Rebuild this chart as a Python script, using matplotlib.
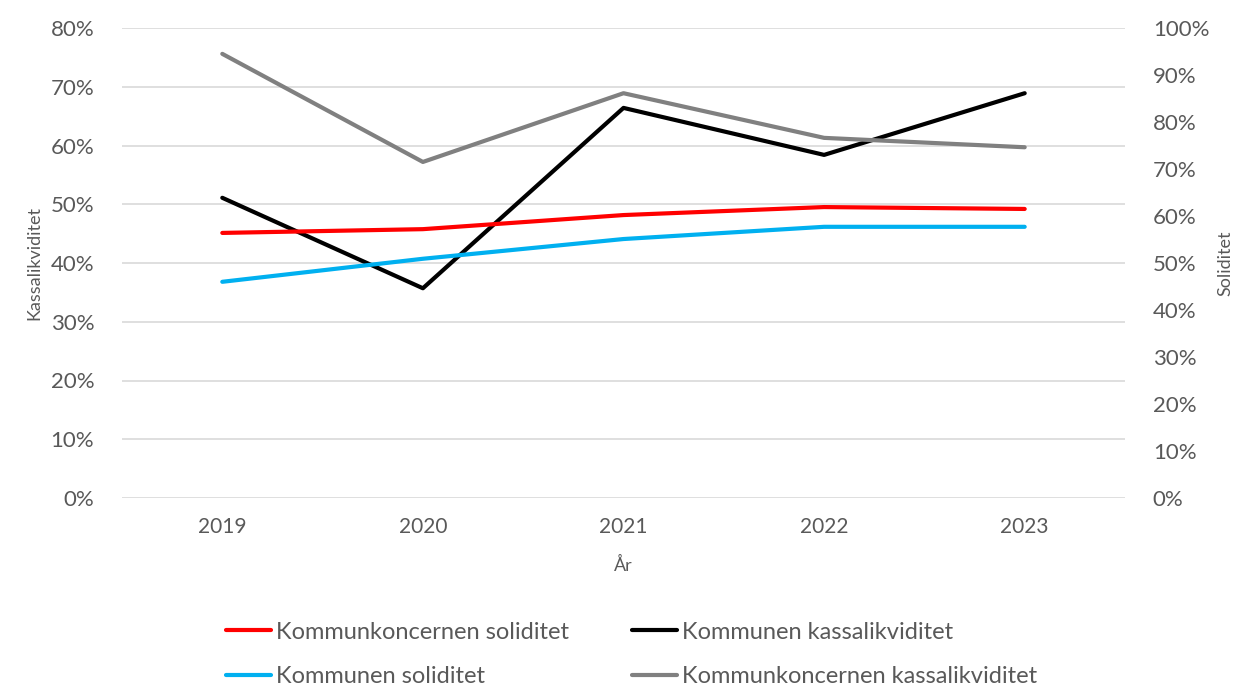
import matplotlib.pyplot as plt
from matplotlib.ticker import PercentFormatter

plt.rcParams['font.family'] = ['Lato', 'DejaVu Sans']

# Data
years = ["2019", "2020", "2021", "2022", "2023"]
koncern_soliditet = [56.4, 57.2, 60.2, 61.9, 61.5]       # right axis
kommun_soliditet = [46.0, 50.9, 55.1, 57.7, 57.7]        # right axis
kommun_kassalikviditet = [51.1, 35.7, 66.4, 58.4, 68.9]  # left axis
koncern_kassalikviditet = [75.6, 57.2, 68.9, 61.3, 59.7] # left axis

txt = "#595959"
grid = "#d9d9d9"

fig = plt.figure(figsize=(12.36, 6.86), dpi=100)
ax = fig.add_axes([122 / 1236, 1 - 498 / 686, (1125 - 122) / 1236, (498 - 28) / 686])
ax2 = ax.twinx()

x = list(range(len(years)))
l3, = ax.plot(x, kommun_kassalikviditet, color="black", lw=3, solid_capstyle="round",
              label="Kommunen kassalikviditet")
l4, = ax.plot(x, koncern_kassalikviditet, color="#808080", lw=3, solid_capstyle="round",
              label="Kommunkoncernen kassalikviditet")
l1, = ax2.plot(x, koncern_soliditet, color="#ff0000", lw=3, solid_capstyle="round",
               label="Kommunkoncernen soliditet")
l2, = ax2.plot(x, kommun_soliditet, color="#00b0f0", lw=3, solid_capstyle="round",
               label="Kommunen soliditet")

ax.set_xlim(-0.5, len(years) - 0.5)
ax.set_ylim(0, 80)
ax2.set_ylim(0, 100)
ax.set_yticks(range(0, 81, 10))
ax2.set_yticks(range(0, 101, 10))
ax.yaxis.set_major_formatter(PercentFormatter(decimals=0))
ax2.yaxis.set_major_formatter(PercentFormatter(decimals=0))
ax.set_xticks(x)
ax.set_xticklabels(years)

ax.grid(axis="y", color=grid, lw=1.2)
ax.set_axisbelow(True)
for a in (ax, ax2):
    for s in a.spines.values():
        s.set_visible(False)
    a.tick_params(length=0, colors=txt, labelsize=16)
ax.tick_params(axis="x", labelsize=15, pad=14)
ax.tick_params(axis="y", pad=20)
ax2.tick_params(axis="y", pad=20)

ax.set_xlabel("År", color=txt, fontsize=13, labelpad=14)
ax.set_ylabel("Kassalikviditet", color=txt, fontsize=13, labelpad=6)
ax2.set_ylabel("Soliditet", color=txt, fontsize=13, labelpad=6)

leg = fig.legend([l1, l2, l3, l4],
                 [h.get_label() for h in (l1, l2, l3, l4)],
                 ncol=2, loc="center", bbox_to_anchor=(0.511, 0.046),
                 frameon=False, fontsize=17, labelcolor=txt,
                 handlelength=1.9, handletextpad=0.2, columnspacing=2.7,
                 labelspacing=1.0)

fig.savefig("out.png", dpi=100)
